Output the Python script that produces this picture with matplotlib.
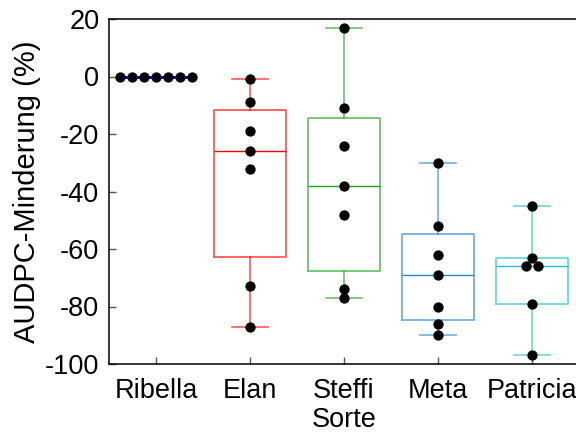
import matplotlib
matplotlib.use("Agg")
import matplotlib.pyplot as plt
import numpy as np

plt.rcParams['font.family'] = ['Liberation Sans', 'DejaVu Sans']
plt.rcParams['axes.unicode_minus'] = False

categories = ["Ribella", "Elan", "Steffi", "Meta", "Patricia"]
colors = ["#0000ff", "#ff0000", "#1fa01f", "#2288c8", "#1cc4c4"]

ribella = [0, 0, 0, 0, 0, 0, 0]
elan = [-1, -9, -19, -26, -32, -73, -87]
steffi = [17, -11, -24, -38, -48, -74, -77]
meta = [-30, -52, -62, -69, -80, -86, -90]
patricia = [-45, -63, -66, -66, -79, -97]
points = [ribella, elan, steffi, meta, patricia]

# box statistics
q1 = [0, -62.8, -67.5, -84.6, -79]
med = [0, -26, -38, -69, -66]
q3 = [0, -11.7, -14.3, -54.7, -63]
whislo = [0, -87, -77, -90, -97]
whishi = [0, -1, 17, -30, -45]

yticks = [20, 0, -20, -40, -60, -80, -100]

fig = plt.figure(figsize=(5.76, 4.34), dpi=100)
ax = fig.add_axes([109/576, 70/434, 470/576, 345/434])

stats = []
for i in range(len(categories)):
    stats.append(dict(q1=q1[i], med=med[i], q3=q3[i], whislo=whislo[i],
                      whishi=whishi[i], fliers=[]))

pos = np.arange(len(categories))
bp = ax.bxp(stats, positions=pos, widths=0.76, showfliers=False,
            patch_artist=False, capwidths=0.38)
for i, c in enumerate(colors):
    bp['boxes'][i].set(color=c, linewidth=1.3, alpha=0.65)
    for w in bp['whiskers'][2*i:2*i+2]:
        w.set(color=c, linewidth=1.3, alpha=0.6)
    for cp in bp['caps'][2*i:2*i+2]:
        cp.set(color=c, linewidth=1.3, alpha=0.6)
    bp['medians'][i].set(color=c, linewidth=1.0, alpha=1.0)
bp['boxes'][0].set(alpha=1.0, linewidth=1.8)

spacing = 0.126
for i, vals in enumerate(points):
    vals = np.array(vals, dtype=float)
    xs = np.zeros_like(vals)
    for v in np.unique(vals):
        idx = np.where(vals == v)[0]
        n = len(idx)
        xs[idx] = (np.arange(n) - (n - 1) / 2) * spacing
    ax.scatter(pos[i] + xs, vals, s=55, color='black', zorder=5, linewidths=0)

ax.set_xlim(-0.5, 4.5)
ax.set_ylim(-100, 20)
ax.set_yticks(yticks)
ax.set_xticks(pos)
ax.set_xticklabels(categories)
ax.tick_params(direction='in', labelsize=19.5, length=5, width=1, color='#555555')
ax.tick_params(axis='x', pad=10)
ax.tick_params(axis='y', pad=7)
for s in ['left', 'top', 'bottom']:
    ax.spines[s].set_linewidth(1.1)
ax.spines['right'].set_visible(False)

ax.set_xlabel("Sorte", fontsize=19.5, labelpad=2)
ax.set_ylabel("AUDPC-Minderung (%)", fontsize=21, labelpad=3)

fig.savefig("out.png", dpi=100)
